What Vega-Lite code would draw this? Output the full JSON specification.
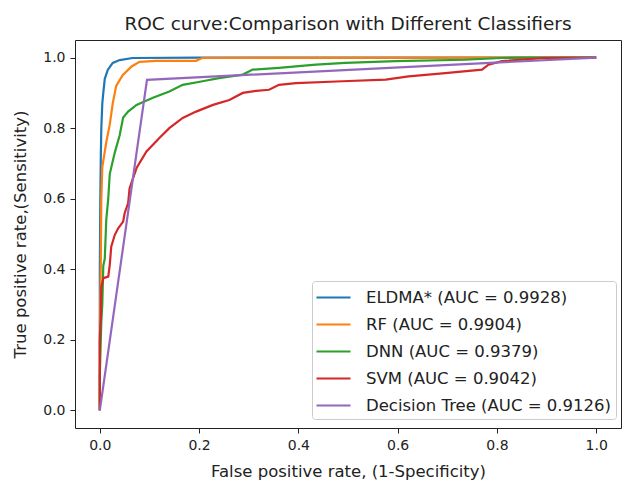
{
  "$schema": "https://vega.github.io/schema/vega-lite/v6.json",
  "autosize": {"type": "none"},
  "padding": {"left": 75, "top": 40, "right": 1, "bottom": 57},
  "width": 546,
  "height": 388,
  "background": "white",
  "config": {
    "font": "DejaVu Sans",
    "view": {"stroke": "#222", "strokeWidth": 1},
    "axis": {"grid": false, "domain": false, "tickColor": "#222", "tickSize": 5, "labelColor": "#222", "titleColor": "#222", "labelFont": "DejaVu Sans", "titleFont": "DejaVu Sans", "labelFontSize": 14, "titleFontSize": 16.5, "titleFontWeight": "normal"}
  },
  "title": {"text": "ROC curve:Comparison with Different Classifiers", "fontSize": 18.5, "fontWeight": "normal", "font": "DejaVu Sans", "color": "#222", "offset": 7},
  "data": {"values": [
    {"model": "ELDMA* (AUC = 0.9928)", "fpr": 0, "tpr": 0},
    {"model": "ELDMA* (AUC = 0.9928)", "fpr": 0, "tpr": 0.4},
    {"model": "ELDMA* (AUC = 0.9928)", "fpr": 0.001, "tpr": 0.6},
    {"model": "ELDMA* (AUC = 0.9928)", "fpr": 0.002, "tpr": 0.72},
    {"model": "ELDMA* (AUC = 0.9928)", "fpr": 0.003, "tpr": 0.8},
    {"model": "ELDMA* (AUC = 0.9928)", "fpr": 0.005, "tpr": 0.87},
    {"model": "ELDMA* (AUC = 0.9928)", "fpr": 0.007, "tpr": 0.9},
    {"model": "ELDMA* (AUC = 0.9928)", "fpr": 0.01, "tpr": 0.94},
    {"model": "ELDMA* (AUC = 0.9928)", "fpr": 0.016, "tpr": 0.965},
    {"model": "ELDMA* (AUC = 0.9928)", "fpr": 0.026, "tpr": 0.985},
    {"model": "ELDMA* (AUC = 0.9928)", "fpr": 0.04, "tpr": 0.993},
    {"model": "ELDMA* (AUC = 0.9928)", "fpr": 0.066, "tpr": 0.999},
    {"model": "ELDMA* (AUC = 0.9928)", "fpr": 0.2, "tpr": 1},
    {"model": "ELDMA* (AUC = 0.9928)", "fpr": 1, "tpr": 1},
    {"model": "RF (AUC = 0.9904)", "fpr": 0, "tpr": 0},
    {"model": "RF (AUC = 0.9904)", "fpr": 0, "tpr": 0.2},
    {"model": "RF (AUC = 0.9904)", "fpr": 0.002, "tpr": 0.42},
    {"model": "RF (AUC = 0.9904)", "fpr": 0.003, "tpr": 0.6},
    {"model": "RF (AUC = 0.9904)", "fpr": 0.005, "tpr": 0.69},
    {"model": "RF (AUC = 0.9904)", "fpr": 0.013, "tpr": 0.76},
    {"model": "RF (AUC = 0.9904)", "fpr": 0.02, "tpr": 0.81},
    {"model": "RF (AUC = 0.9904)", "fpr": 0.026, "tpr": 0.87},
    {"model": "RF (AUC = 0.9904)", "fpr": 0.033, "tpr": 0.92},
    {"model": "RF (AUC = 0.9904)", "fpr": 0.046, "tpr": 0.95},
    {"model": "RF (AUC = 0.9904)", "fpr": 0.064, "tpr": 0.975},
    {"model": "RF (AUC = 0.9904)", "fpr": 0.08, "tpr": 0.988},
    {"model": "RF (AUC = 0.9904)", "fpr": 0.113, "tpr": 0.991},
    {"model": "RF (AUC = 0.9904)", "fpr": 0.194, "tpr": 0.991},
    {"model": "RF (AUC = 0.9904)", "fpr": 0.206, "tpr": 0.999},
    {"model": "RF (AUC = 0.9904)", "fpr": 1, "tpr": 1},
    {"model": "DNN (AUC = 0.9379)", "fpr": 0, "tpr": 0},
    {"model": "DNN (AUC = 0.9379)", "fpr": 0, "tpr": 0.1},
    {"model": "DNN (AUC = 0.9379)", "fpr": 0.003, "tpr": 0.25},
    {"model": "DNN (AUC = 0.9379)", "fpr": 0.005, "tpr": 0.3},
    {"model": "DNN (AUC = 0.9379)", "fpr": 0.007, "tpr": 0.41},
    {"model": "DNN (AUC = 0.9379)", "fpr": 0.01, "tpr": 0.43},
    {"model": "DNN (AUC = 0.9379)", "fpr": 0.013, "tpr": 0.54},
    {"model": "DNN (AUC = 0.9379)", "fpr": 0.017, "tpr": 0.6},
    {"model": "DNN (AUC = 0.9379)", "fpr": 0.02, "tpr": 0.67},
    {"model": "DNN (AUC = 0.9379)", "fpr": 0.03, "tpr": 0.73},
    {"model": "DNN (AUC = 0.9379)", "fpr": 0.04, "tpr": 0.78},
    {"model": "DNN (AUC = 0.9379)", "fpr": 0.047, "tpr": 0.83},
    {"model": "DNN (AUC = 0.9379)", "fpr": 0.057, "tpr": 0.847},
    {"model": "DNN (AUC = 0.9379)", "fpr": 0.074, "tpr": 0.866},
    {"model": "DNN (AUC = 0.9379)", "fpr": 0.107, "tpr": 0.886},
    {"model": "DNN (AUC = 0.9379)", "fpr": 0.14, "tpr": 0.904},
    {"model": "DNN (AUC = 0.9379)", "fpr": 0.167, "tpr": 0.923},
    {"model": "DNN (AUC = 0.9379)", "fpr": 0.207, "tpr": 0.933},
    {"model": "DNN (AUC = 0.9379)", "fpr": 0.24, "tpr": 0.942},
    {"model": "DNN (AUC = 0.9379)", "fpr": 0.288, "tpr": 0.952},
    {"model": "DNN (AUC = 0.9379)", "fpr": 0.308, "tpr": 0.966},
    {"model": "DNN (AUC = 0.9379)", "fpr": 0.361, "tpr": 0.971},
    {"model": "DNN (AUC = 0.9379)", "fpr": 0.395, "tpr": 0.975},
    {"model": "DNN (AUC = 0.9379)", "fpr": 0.435, "tpr": 0.98},
    {"model": "DNN (AUC = 0.9379)", "fpr": 0.495, "tpr": 0.985},
    {"model": "DNN (AUC = 0.9379)", "fpr": 0.596, "tpr": 0.99},
    {"model": "DNN (AUC = 0.9379)", "fpr": 0.736, "tpr": 0.994},
    {"model": "DNN (AUC = 0.9379)", "fpr": 0.81, "tpr": 0.999},
    {"model": "DNN (AUC = 0.9379)", "fpr": 0.85, "tpr": 1},
    {"model": "DNN (AUC = 0.9379)", "fpr": 1, "tpr": 1},
    {"model": "SVM (AUC = 0.9042)", "fpr": 0, "tpr": 0},
    {"model": "SVM (AUC = 0.9042)", "fpr": 0, "tpr": 0.2},
    {"model": "SVM (AUC = 0.9042)", "fpr": 0.002, "tpr": 0.27},
    {"model": "SVM (AUC = 0.9042)", "fpr": 0.003, "tpr": 0.35},
    {"model": "SVM (AUC = 0.9042)", "fpr": 0.007, "tpr": 0.375},
    {"model": "SVM (AUC = 0.9042)", "fpr": 0.017, "tpr": 0.379},
    {"model": "SVM (AUC = 0.9042)", "fpr": 0.02, "tpr": 0.412},
    {"model": "SVM (AUC = 0.9042)", "fpr": 0.023, "tpr": 0.464},
    {"model": "SVM (AUC = 0.9042)", "fpr": 0.03, "tpr": 0.497},
    {"model": "SVM (AUC = 0.9042)", "fpr": 0.037, "tpr": 0.516},
    {"model": "SVM (AUC = 0.9042)", "fpr": 0.047, "tpr": 0.535},
    {"model": "SVM (AUC = 0.9042)", "fpr": 0.05, "tpr": 0.559},
    {"model": "SVM (AUC = 0.9042)", "fpr": 0.057, "tpr": 0.587},
    {"model": "SVM (AUC = 0.9042)", "fpr": 0.06, "tpr": 0.63},
    {"model": "SVM (AUC = 0.9042)", "fpr": 0.074, "tpr": 0.687},
    {"model": "SVM (AUC = 0.9042)", "fpr": 0.094, "tpr": 0.734},
    {"model": "SVM (AUC = 0.9042)", "fpr": 0.12, "tpr": 0.772},
    {"model": "SVM (AUC = 0.9042)", "fpr": 0.14, "tpr": 0.8},
    {"model": "SVM (AUC = 0.9042)", "fpr": 0.167, "tpr": 0.829},
    {"model": "SVM (AUC = 0.9042)", "fpr": 0.194, "tpr": 0.847},
    {"model": "SVM (AUC = 0.9042)", "fpr": 0.228, "tpr": 0.866},
    {"model": "SVM (AUC = 0.9042)", "fpr": 0.261, "tpr": 0.88},
    {"model": "SVM (AUC = 0.9042)", "fpr": 0.288, "tpr": 0.9},
    {"model": "SVM (AUC = 0.9042)", "fpr": 0.315, "tpr": 0.906},
    {"model": "SVM (AUC = 0.9042)", "fpr": 0.341, "tpr": 0.909},
    {"model": "SVM (AUC = 0.9042)", "fpr": 0.361, "tpr": 0.923},
    {"model": "SVM (AUC = 0.9042)", "fpr": 0.395, "tpr": 0.928},
    {"model": "SVM (AUC = 0.9042)", "fpr": 0.489, "tpr": 0.933},
    {"model": "SVM (AUC = 0.9042)", "fpr": 0.576, "tpr": 0.9375},
    {"model": "SVM (AUC = 0.9042)", "fpr": 0.622, "tpr": 0.947},
    {"model": "SVM (AUC = 0.9042)", "fpr": 0.696, "tpr": 0.956},
    {"model": "SVM (AUC = 0.9042)", "fpr": 0.77, "tpr": 0.966},
    {"model": "SVM (AUC = 0.9042)", "fpr": 0.783, "tpr": 0.98},
    {"model": "SVM (AUC = 0.9042)", "fpr": 0.81, "tpr": 0.99},
    {"model": "SVM (AUC = 0.9042)", "fpr": 0.897, "tpr": 0.999},
    {"model": "SVM (AUC = 0.9042)", "fpr": 1, "tpr": 1},
    {"model": "Decision Tree (AUC = 0.9126)", "fpr": 0, "tpr": 0},
    {"model": "Decision Tree (AUC = 0.9126)", "fpr": 0.095, "tpr": 0.937},
    {"model": "Decision Tree (AUC = 0.9126)", "fpr": 1, "tpr": 1}
  ]},
  "mark": {"type": "line", "strokeWidth": 2.2, "clip": true},
  "encoding": {
    "x": {"field": "fpr", "type": "quantitative", "scale": {"domain": [-0.05, 1.05], "nice": false, "zero": false}, "axis": {"values": [0, 0.2, 0.4, 0.6, 0.8, 1.0], "format": ".1f", "title": "False positive rate, (1-Specificity)", "labelPadding": 5, "titlePadding": 11}},
    "y": {"field": "tpr", "type": "quantitative", "scale": {"domain": [-0.05, 1.05], "nice": false, "zero": false}, "axis": {"values": [0, 0.2, 0.4, 0.6, 0.8, 1.0], "format": ".1f", "title": "True positive rate,(Sensitivity)", "labelPadding": 5, "titlePadding": 14}},
    "color": {"field": "model", "type": "nominal", "sort": null,
      "scale": {"domain": ["ELDMA* (AUC = 0.9928)", "RF (AUC = 0.9904)", "DNN (AUC = 0.9379)", "SVM (AUC = 0.9042)", "Decision Tree (AUC = 0.9126)"], "range": ["#1f77b4", "#ff7f0e", "#2ca02c", "#d62728", "#9467bd"]},
      "legend": {"title": null, "orient": "none", "legendX": 237, "legendY": 241, "fillColor": "white", "strokeColor": "#ccc", "cornerRadius": 3, "padding": 5, "symbolType": "M-1.2,0H2.2", "symbolSize": 400, "symbolStrokeWidth": 2.2, "labelFontSize": 16.5, "labelFont": "DejaVu Sans", "labelColor": "#222", "labelLimit": 400, "rowPadding": 7, "labelOffset": 26, "offset": 0}},
    "order": {"value": null}
  }
}
